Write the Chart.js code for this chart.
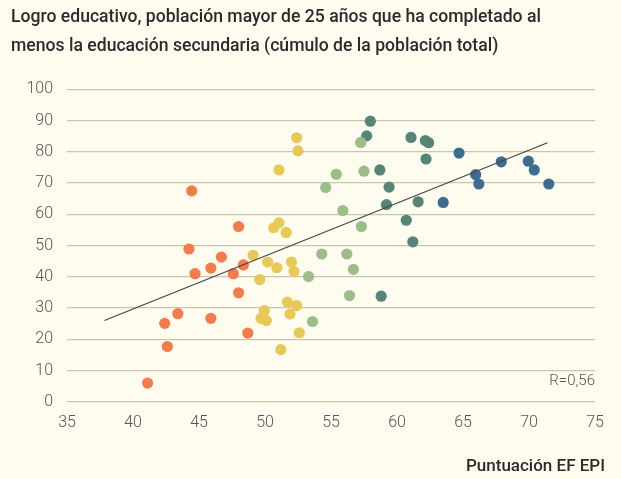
<!DOCTYPE html>
<html>
<head>
<meta charset="utf-8">
<script src="https://cdn.jsdelivr.net/npm/chart.js@4"></script>
<style>
  html, body { margin: 0; padding: 0; background: #fefcef; }
  #wrap { width: 621px; height: 479px; }
</style>
</head>
<body>
<div id="wrap"><canvas id="chart"></canvas></div>
<script>
// EF EPI score (x) vs. % population 25+ with at least secondary education (y)
const muyBajoX = [44.45, 48.0, 44.24, 46.7, 48.36, 47.6, 45.9, 44.7, 48.0, 43.4, 42.4, 45.9, 48.7, 42.6, 41.1];
const muyBajoY = [67.5, 56.1, 48.9, 46.3, 43.8, 41.0, 42.8, 41.0, 34.9, 28.2, 25.1, 26.7, 22.0, 17.7, 6.0];

const bajoX = [52.4, 52.5, 51.06, 51.06, 50.66, 51.6, 49.1, 50.2, 50.9, 52.0, 52.2, 49.6, 51.7, 52.4, 49.95, 51.9, 49.7, 50.1, 52.6, 51.2];
const bajoY = [84.5, 80.3, 74.2, 57.3, 55.7, 54.2, 46.9, 44.7, 42.9, 44.7, 41.7, 39.1, 31.9, 30.8, 29.2, 28.1, 26.7, 26.0, 22.1, 16.7];

const moderadoX = [57.25, 55.4, 57.5, 54.6, 55.9, 57.3, 54.3, 56.2, 56.7, 53.3, 53.6, 56.4];
const moderadoY = [83.0, 72.8, 73.8, 68.6, 61.2, 56.1, 47.3, 47.3, 42.4, 40.1, 25.7, 34.0];

const altoX = [57.98, 57.7, 61.06, 62.15, 62.4, 62.2, 58.7, 59.4, 61.6, 59.2, 60.7, 61.2, 58.8];
const altoY = [89.8, 85.1, 84.6, 83.6, 82.9, 77.7, 74.2, 68.7, 64.0, 63.1, 58.1, 51.2, 33.8];

const muyAltoX = [64.7, 67.9, 69.95, 70.4, 65.96, 66.2, 71.5, 63.5];
const muyAltoY = [79.6, 76.8, 77.0, 74.2, 72.7, 69.7, 69.7, 63.8];

// trend line end points
const trendX = [37.83, 71.4];
const trendY = [26.0, 82.9];

const titleLines = [
  'Logro educativo, población mayor de 25 años que ha completado al',
  'menos la educación secundaria (cúmulo de la población total)'
];
const xTitle = 'Puntuación EF EPI';
const rLabel = 'R=0,56';

const toPoints = (xs, ys) => xs.map((x, i) => ({ x: x, y: ys[i] }));

function group(xs, ys, color) {
  return {
    type: 'scatter',
    data: toPoints(xs, ys),
    backgroundColor: color,
    borderWidth: 0,
    pointRadius: 5.6,
    pointHoverRadius: 5.6
  };
}

// extra texts: R value and the x axis caption
const extraText = {
  id: 'extraText',
  afterDraw(chart) {
    const ctx = chart.ctx;
    const area = chart.chartArea;
    ctx.save();
    ctx.textAlign = 'right';
    ctx.textBaseline = 'middle';
    ctx.fillStyle = '#555';
    ctx.font = '300 15px Roboto';
    ctx.fillText(rLabel, area.right, 381);
    ctx.fillStyle = '#2b2b2b';
    ctx.font = '500 17px Roboto';
    ctx.fillText(xTitle, 605, 467);
    ctx.restore();
  }
};

const config = {
  data: {
    datasets: [
      {
        type: 'line',
        data: toPoints(trendX, trendY),
        borderColor: '#444',
        borderWidth: 1.2,
        pointRadius: 0,
        fill: false
      },
      group(muyBajoX, muyBajoY, '#f47b4b'),
      group(bajoX, bajoY, '#e8c957'),
      group(moderadoX, moderadoY, '#9cbc88'),
      group(altoX, altoY, '#578479'),
      group(muyAltoX, muyAltoY, '#3c6d90')
    ]
  },
  options: {
    responsive: true,
    maintainAspectRatio: false,
    animation: false,
    layout: { padding: { left: 11, right: 26, top: 0, bottom: 42 } },
    plugins: {
      legend: { display: false },
      tooltip: { enabled: false },
      title: {
        display: true,
        text: titleLines,
        align: 'start',
        color: '#2b2b2b',
        font: { family: 'Roboto', size: 17.6, weight: '500', lineHeight: 1.6 },
        padding: { top: 4, bottom: 29 }
      }
    },
    scales: {
      x: {
        type: 'linear',
        min: 35,
        max: 75,
        grid: { display: false },
        border: { display: false },
        ticks: {
          stepSize: 5,
          color: '#555',
          padding: 4,
          font: { family: 'Roboto', size: 16, weight: '300' }
        }
      },
      y: {
        min: 0,
        max: 100,
        grid: { color: '#c9c5b1', lineWidth: 1.2, drawTicks: false },
        border: { display: false },
        ticks: {
          stepSize: 10,
          color: '#555',
          padding: 14,
          font: { family: 'Roboto', size: 16, weight: '300' }
        },
        afterFit(scale) { scale.width = 56; }
      }
    }
  },
  plugins: [extraText]
};

new Chart(document.getElementById('chart'), config);
</script>
</body>
</html>
